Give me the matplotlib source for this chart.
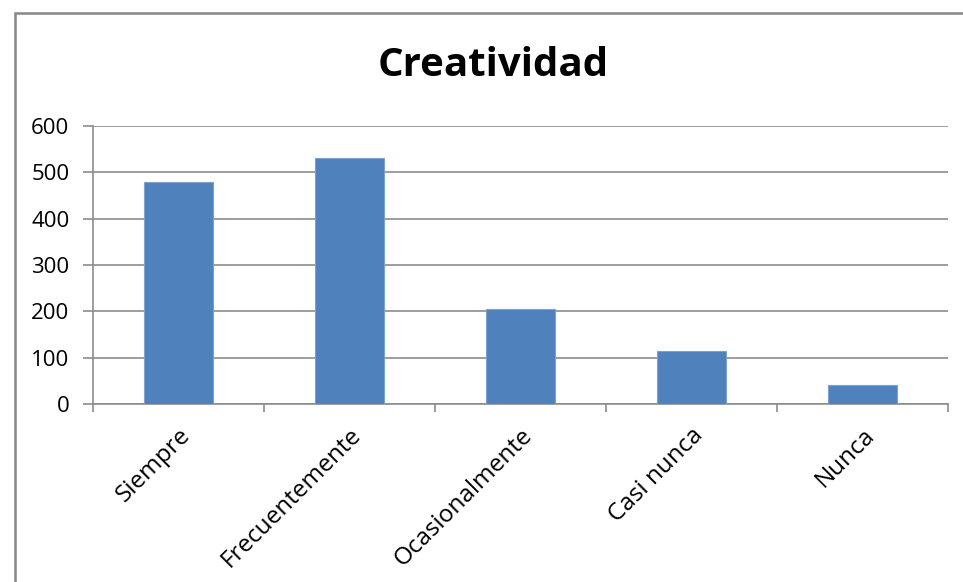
import matplotlib.pyplot as plt
from matplotlib.patches import Rectangle

categories = ['Siempre', 'Frecuentemente', 'Ocasionalmente', 'Casi nunca', 'Nunca']
values = [479, 531, 206, 115, 40]
y_ticks = [0, 100, 200, 300, 400, 500, 600]

plt.rcParams['font.family'] = ['Open Sans', 'DejaVu Sans']

fig = plt.figure(figsize=(9.63, 5.82), dpi=100)
ax = fig.add_axes([93 / 963, 1 - 404 / 582, 855 / 963, 278 / 582])

# outer chart border (right and bottom are cut off in the original)
fig.add_artist(Rectangle((15 / 963, -0.1), 1.2, 1 - 13 / 582 + 0.1,
                         transform=fig.transFigure, fill=False,
                         edgecolor='#878787', linewidth=1.8))

x = range(len(categories))
ax.bar(x, values, width=0.4, color='#4F81BD', edgecolor='#7DA2D2', linewidth=0.8, zorder=3)

ax.set_xlim(-0.5, len(categories) - 0.5)
ax.set_ylim(0, 600)
ax.set_yticks(y_ticks)
ax.yaxis.grid(True, color='#8C8C8C', linewidth=1.2, zorder=0)

ax.set_xticks(x)
ax.set_xticklabels(categories, rotation=45, ha='right', rotation_mode='anchor', fontsize=17.5)
ax.tick_params(axis='x', length=0, pad=14)
ax.set_xticks([i - 0.5 for i in range(len(categories) + 1)], minor=True)
ax.tick_params(axis='x', which='minor', length=6, color='#8C8C8C', width=1.2)
ax.tick_params(axis='y', length=7, color='#8C8C8C', width=1.2, labelsize=16, pad=10)

for s in ['top', 'right']:
    ax.spines[s].set_visible(False)
for s in ['left', 'bottom']:
    ax.spines[s].set_color('#8C8C8C')
    ax.spines[s].set_linewidth(1.2)

fig.text(493 / 963, 1 - 65 / 582, 'Creatividad', ha='center', va='center',
         fontsize=29, fontweight='bold')

fig.savefig('out.png', dpi=100)
